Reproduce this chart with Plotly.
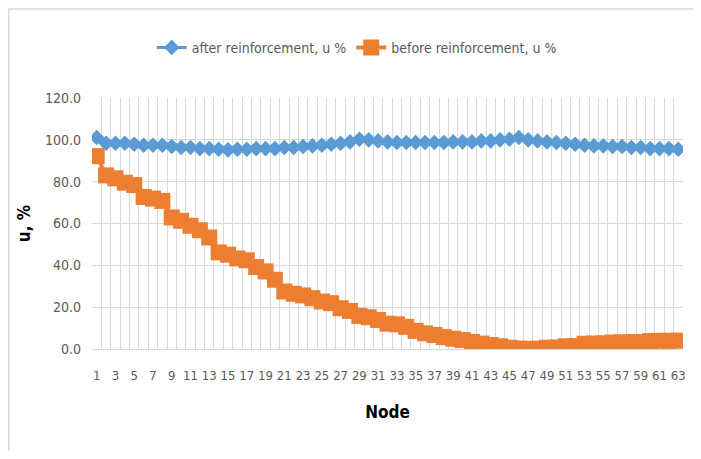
import plotly.graph_objects as go

nodes = list(range(1, 64))
tick_nodes = list(range(1, 64, 2))

after_u = [
    101.1, 98.4, 98.4, 98.4, 97.9, 97.4, 97.4, 97.4, 96.8, 96.3,
    96.3, 95.8, 95.8, 95.5, 95.2, 95.5, 95.5, 95.8, 95.8, 95.8,
    96.3, 96.3, 96.8, 97.1, 97.4, 97.9, 98.4, 99.0, 100.3, 100.0,
    99.5, 99.0, 98.7, 98.7, 98.7, 98.7, 98.7, 98.7, 99.0, 99.0,
    99.0, 99.5, 99.5, 100.0, 100.3, 101.1, 100.0, 99.5, 99.0, 98.7,
    98.4, 97.9, 97.4, 97.1, 97.1, 96.8, 96.8, 96.3, 96.3, 95.8,
    95.8, 95.8, 95.5,
]

before_u = [
    92.2, 83.0, 81.6, 79.5, 78.4, 72.7, 71.9, 70.8, 62.9, 61.3,
    58.9, 56.8, 53.3, 46.2, 45.1, 43.3, 42.4, 39.2, 37.1, 33.1,
    27.5, 26.4, 25.6, 24.3, 22.7, 21.9, 19.5, 18.2, 15.8, 15.2,
    13.9, 12.1, 11.8, 10.6, 8.7, 7.5, 6.7, 5.7, 4.9, 4.3,
    3.4, 2.6, 1.9, 1.3, 0.6, 0.2, 0.0, 0.2, 0.6, 0.7,
    1.3, 1.4, 2.5, 2.6, 2.7, 3.1, 3.2, 3.3, 3.3, 3.8,
    3.9, 3.9, 4.0,
]

FONT = "Liberation Sans Narrow, DejaVu Sans Condensed, Liberation Sans, Arial, sans-serif"
GRID = "#d9d9d9"
TXT = "#595959"

fig = go.Figure()
fig.add_trace(go.Scatter(
    x=nodes, y=after_u, name="after reinforcement, u %",
    mode="lines+markers",
    line=dict(color="#5b9bd5", width=3),
    marker=dict(symbol="diamond", size=12, color="#5b9bd5"),
))
fig.add_trace(go.Scatter(
    x=nodes, y=before_u, name="before reinforcement, u %",
    mode="lines+markers",
    line=dict(color="#ed7d31", width=4),
    marker=dict(symbol="square", size=16, color="#ed7d31"),
))

# borde del área del gráfico (estilo Excel)
fig.add_shape(type="rect", xref="paper", yref="paper",
              x0=-0.141, x1=1.06, y0=-0.5, y1=1.355,
              line=dict(color=GRID, width=1.5), layer="below")

fig.update_layout(
    width=685, height=443,
    paper_bgcolor="white", plot_bgcolor="white",
    font=dict(family=FONT, color=TXT, size=13),
    margin=dict(l=84, r=7, t=90, b=102),
    legend=dict(orientation="h", x=0.448, y=1.2, xanchor="center", yanchor="middle",
                font=dict(family=FONT, color=TXT, size=14), itemwidth=30),
    xaxis=dict(
        range=[0.5, 63.5], tickmode="array", tickvals=tick_nodes,
        ticktext=[str(n) for n in tick_nodes], tickangle=0,
        showgrid=False, zeroline=False, showline=True, linecolor=GRID,
        tickfont=dict(family=FONT, color=TXT, size=13), ticklabelstandoff=14,
        minor=dict(tickmode="linear", tick0=0.5, dtick=1, showgrid=True, gridcolor=GRID, gridwidth=1),
        title=dict(text="<b>Node</b>", font=dict(family=FONT, color="black", size=17), standoff=24),
    ),
    yaxis=dict(
        range=[0, 120], dtick=20, tickformat=".1f",
        showgrid=True, gridcolor=GRID, zeroline=False,
        tickfont=dict(family=FONT, color=TXT, size=14), ticklabelstandoff=10,
        title=dict(text="<b>u, %</b>", font=dict(family=FONT, color="black", size=17), standoff=10),
    ),
)

fig.write_html("out.html")
